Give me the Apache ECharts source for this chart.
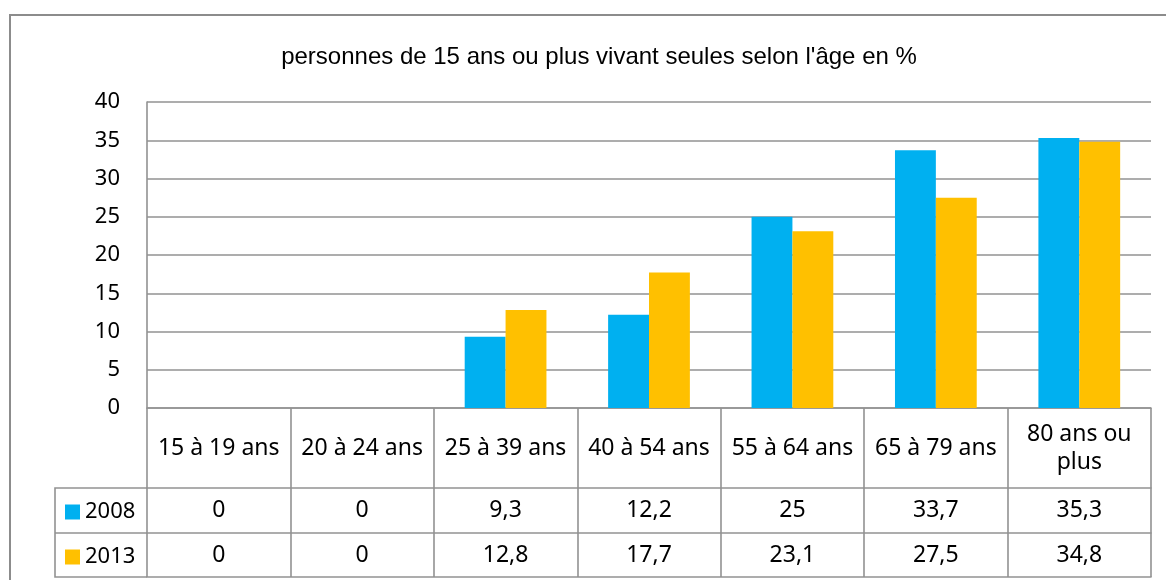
<!DOCTYPE html>
<html>
<head>
<meta charset="utf-8">
<script src="https://cdn.jsdelivr.net/npm/echarts@6/dist/echarts.min.js"></script>
<style>
  html, body { margin: 0; padding: 0; background: #fff; }
  #chart { width: 1166px; height: 580px; }
</style>
</head>
<body>
<div id="chart"></div>
<script>
const categories = ['15 à 19 ans', '20 à 24 ans', '25 à 39 ans', '40 à 54 ans', '55 à 64 ans', '65 à 79 ans', '80 ans ou\nplus']
const values2008 = [0, 0, 9.3, 12.2, 25, 33.7, 35.3]
const values2013 = [0, 0, 12.8, 17.7, 23.1, 27.5, 34.8]
const seriesNames = ['2008', '2013']
const yTicks = { min: 0, max: 40, interval: 5 }

const lineColor = '#929292'
const lineW = 1.6
const textFont = 'Noto Sans'
const fmt = v => String(v).replace('.', ',')

const chart = echarts.init(document.getElementById('chart'))

// extra axes below the grid act as the rows of the data table
const rowAxis = (offset, values, margin) => ({
  type: 'category',
  position: 'bottom',
  offset,
  data: categories,
  axisLine: { show: true, lineStyle: { color: lineColor, width: lineW } },
  axisTick: { show: false },
  axisLabel: {
    show: !!values,
    interval: 0,
    margin,
    verticalAlign: 'middle',
    color: '#000',
    fontFamily: textFont,
    fontSize: 23,
    formatter: (v, i) => values ? fmt(values[i]) : ''
  }
})

const legendItem = (name, top) => ({
  data: [name], left: 60, top, icon: 'rect', itemWidth: 15, itemHeight: 15, itemGap: 0,
  textStyle: { fontFamily: textFont, fontSize: 22, color: '#000' }
})

chart.setOption({
  animation: false,
  title: {
    text: "personnes de 15 ans ou plus vivant seules selon l'âge en %",
    left: 594,
    top: 40,
    textAlign: 'center',
    textStyle: { fontFamily: 'Liberation Sans', fontSize: 24, fontWeight: 'normal', color: '#000' }
  },
  legend: [legendItem(seriesNames[0], 496), legendItem(seriesNames[1], 541)],
  grid: { left: 147, right: 15, top: 102, bottom: 172, containLabel: false },
  xAxis: [
    {
      type: 'category',
      data: categories,
      axisLine: { show: true, lineStyle: { color: lineColor, width: lineW } },
      axisTick: { show: true, interval: 0, length: 169, lineStyle: { color: lineColor, width: lineW } },
      axisLabel: {
        interval: 0,
        margin: 40,
        verticalAlign: 'middle',
        lineHeight: 28,
        color: '#000',
        fontFamily: textFont,
        fontSize: 23
      }
    },
    rowAxis(80, values2008, 22),
    rowAxis(125, values2013, 22),
    rowAxis(169, null, 0)
  ],
  yAxis: {
    type: 'value',
    min: yTicks.min,
    max: yTicks.max,
    interval: yTicks.interval,
    axisLine: { show: true, lineStyle: { color: lineColor, width: lineW } },
    axisTick: { show: false },
    splitLine: { show: true, lineStyle: { color: lineColor, width: lineW } },
    axisLabel: { margin: 27, color: '#000', fontFamily: textFont, fontSize: 22 }
  },
  series: [
    {
      name: seriesNames[0],
      type: 'bar',
      data: values2008,
      barGap: 0,
      barCategoryGap: '43%',
      itemStyle: { color: '#00B0F0' }
    },
    {
      name: seriesNames[1],
      type: 'bar',
      data: values2013,
      barGap: 0,
      barCategoryGap: '43%',
      itemStyle: { color: '#FFC000' }
    }
  ],
  graphic: [
    // chart frame (left and top edges visible)
    { type: 'polyline', shape: { points: [[10, 600], [10, 15], [1200, 15]] },
      style: { stroke: '#8c8c8c', lineWidth: 2, fill: null } },
    // legend column of the data table
    { type: 'polyline', shape: { points: [[147, 488], [55, 488], [55, 577], [147, 577]] },
      style: { stroke: lineColor, lineWidth: lineW, fill: null } },
    { type: 'line', shape: { x1: 55, y1: 533, x2: 147, y2: 533 },
      style: { stroke: lineColor, lineWidth: lineW } }
  ]
})
</script>
</body>
</html>
